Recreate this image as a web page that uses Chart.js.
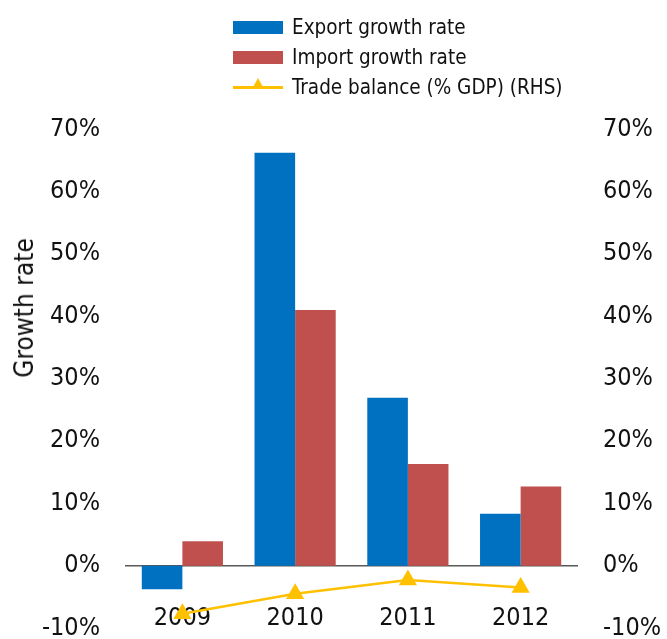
<!DOCTYPE html>
<html>
<head>
<meta charset="utf-8">
<script src="https://cdn.jsdelivr.net/npm/chart.js@4"></script>
<style>
    html, body { margin: 0; padding: 0; background: #fff; overflow: hidden; }
    #wrap { position: relative; width: 667px; height: 639px; overflow: hidden; font-family: "DejaVu Sans Condensed", "DejaVu Sans", sans-serif; color: #111; }
    #chart { position: absolute; left: 0; top: 0; }
    #legend { position: absolute; left: 233px; top: 12px; }
    .item { display: flex; align-items: center; height: 30px; font-size: 20.5px; }
    .swatch { width: 50px; height: 13px; margin-right: 9px; position: relative; }
    .swatch.line { height: 3px; }
    .swatch.line::after { content: ''; position: absolute; left: 19px; top: -8px; border-left: 6px solid transparent; border-right: 6px solid transparent; border-bottom: 11px solid #FFC000; }
    #ytitle { position: absolute; left: 24px; top: 308px; transform: translate(-50%, -50%) rotate(-90deg); font-size: 26px; white-space: nowrap; }
</style>
</head>
<body>
<div id="wrap">
    <canvas id="chart" width="667" height="669"></canvas>
    <div id="legend"></div>
    <div id="ytitle">Growth rate</div>
</div>
<script>
// data
const years = ['2009', '2010', '2011', '2012'];
const exportGrowth = [-3.8, 66.2, 26.9, 8.3];
const importGrowth = [3.9, 41.0, 16.3, 12.7];
const tradeBalance = [-7.7, -4.5, -2.3, -3.5];
const axisMin = -10;
const axisMax = 70;
const axisStep = 10;

const tickFont = { family: '"DejaVu Sans Condensed", "DejaVu Sans", sans-serif', size: 25 };
const pct = v => v + '%';

// canvas is 30px taller than the page so the -10% row sits near the bottom edge
const chart = new Chart(document.getElementById('chart'), {
    type: 'bar',
    data: {
        labels: years,
        datasets: [
            {
                type: 'line',
                label: 'Trade balance (% GDP) (RHS)',
                data: tradeBalance,
                yAxisID: 'y1',
                borderColor: '#FFC000',
                backgroundColor: '#FFC000',
                borderWidth: 2.5,
                pointStyle: 'triangle',
                pointRadius: 8,
                pointHoverRadius: 8,
                tension: 0,
                order: 0
            },
            {
                label: 'Export growth rate',
                data: exportGrowth,
                backgroundColor: '#0070C0',
                yAxisID: 'y',
                order: 1
            },
            {
                label: 'Import growth rate',
                data: importGrowth,
                backgroundColor: '#C0504D',
                yAxisID: 'y',
                order: 1
            }
        ]
    },
    options: {
        responsive: false,
        animation: false,
        layout: { padding: { top: 129, bottom: 12, left: 0, right: 0 } },
        datasets: { bar: { categoryPercentage: 0.72, barPercentage: 1.0 } },
        plugins: {
            legend: { display: false },
            tooltip: { enabled: false }
        },
        scales: {
            x: {
                position: { y: 0 },
                grid: { display: false, drawTicks: false },
                border: { display: true, color: '#595959', width: 1.5 },
                ticks: { font: tickFont, color: '#111', padding: 38, maxRotation: 0 },
                afterFit: s => { s.height = 0; }
            },
            y: {
                position: 'left',
                min: axisMin,
                max: axisMax,
                grid: { display: false, drawTicks: false },
                border: { display: false },
                ticks: { stepSize: axisStep, callback: pct, font: tickFont, color: '#111', padding: 26 },
                afterFit: s => { s.width = 126; }
            },
            y1: {
                position: 'right',
                min: axisMin,
                max: axisMax,
                grid: { display: false, drawTicks: false },
                border: { display: false },
                ticks: { stepSize: axisStep, callback: pct, font: tickFont, color: '#111', padding: 26 },
                afterFit: s => { s.width = 90; }
            }
        }
    }
});

// html legend in the order of the reference
const legendOrder = [1, 2, 0];
const legend = document.getElementById('legend');
legendOrder.forEach(i => {
    const ds = chart.data.datasets[i];
    const item = document.createElement('div');
    item.className = 'item';
    const sw = document.createElement('span');
    sw.className = ds.type === 'line' ? 'swatch line' : 'swatch';
    sw.style.background = ds.type === 'line' ? ds.borderColor : ds.backgroundColor;
    const txt = document.createElement('span');
    txt.textContent = ds.label;
    item.appendChild(sw);
    item.appendChild(txt);
    legend.appendChild(item);
});
</script>
</body>
</html>
